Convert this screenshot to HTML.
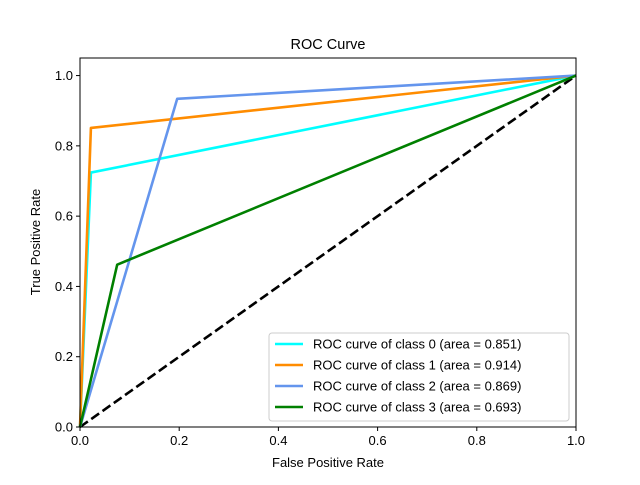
<!DOCTYPE html>
<html><head><meta charset="utf-8"><style>
body{margin:0;background:#fff}
svg{font-family:"Liberation Sans","DejaVu Sans",sans-serif}
</style></head><body>
<svg id="c" width="640" height="480" viewBox="0 0 640 480">
<rect width="640" height="480" fill="#fff"/>
<text x="328" y="49" font-size="14.5" text-anchor="middle">ROC Curve</text>
<g id="plot"></g>
<text x="328" y="467" font-size="13" text-anchor="middle">False Positive Rate</text>
<text transform="translate(40,242) rotate(-90)" font-size="13" text-anchor="middle">True Positive Rate</text>
</svg>
<script>
const seriesNames=["ROC curve of class 0 (area = 0.851)","ROC curve of class 1 (area = 0.914)","ROC curve of class 2 (area = 0.869)","ROC curve of class 3 (area = 0.693)"];
const seriesColors=["#00ffff","#ff8c00","#6495ed","#008000"];
const fprValues=[[0,0.022,1],[0,0.022,1],[0,0.196,1],[0,0.075,1]];
const tprValues=[[0,0.724,1],[0,0.851,1],[0,0.934,1],[0,0.462,1]];
const xTicks=[0,0.2,0.4,0.6,0.8,1.0];
const yTicks=[0,0.2,0.4,0.6,0.8,1.0];
const NS="http://www.w3.org/2000/svg";
const L=80,R=576,T=58,B=427;
const sx=v=>L+v*(R-L);
const sy=v=>B-v/1.05*(B-T);
const g=document.getElementById('plot');
function mk(t,a){const e=document.createElementNS(NS,t);for(const k in a)e.setAttribute(k,a[k]);return e;}
let d=mk('line',{x1:sx(0),y1:sy(0),x2:sx(1),y2:sy(1),stroke:'#000','stroke-width':2.6,'stroke-dasharray':'9.6,4.2'});


g.appendChild(d);
seriesNames.forEach((n,i)=>{
 const pts=fprValues[i].map((x,j)=>sx(x)+','+sy(tprValues[i][j])).join(' ');
 const p=mk('polyline',{points:pts,fill:'none',stroke:seriesColors[i],'stroke-width':2.6,'stroke-linejoin':'round'});
 
 
 g.appendChild(p);
});
const fr=mk('rect',{x:L,y:T,width:R-L,height:B-T,fill:'none',stroke:'#000','stroke-width':1});


g.appendChild(fr);
xTicks.forEach(v=>{
 g.appendChild(mk('line',{x1:sx(v),y1:B,x2:sx(v),y2:B+4,stroke:'#000'}));
 const t=mk('text',{x:sx(v),y:B+18,'font-size':13,'text-anchor':'middle'});t.textContent=v.toFixed(1);
 
 
 g.appendChild(t);
});
yTicks.forEach(v=>{
 g.appendChild(mk('line',{x1:L-4,y1:sy(v),x2:L,y2:sy(v),stroke:'#000'}));
 const t=mk('text',{x:L-7,y:sy(v)+4.5,'font-size':13,'text-anchor':'end'});t.textContent=v.toFixed(1);
 
 
 g.appendChild(t);
});
const lg=mk('rect',{x:269,y:333,width:300,height:88,rx:3,fill:'#fff','fill-opacity':0.8,stroke:'#ccc'});


g.appendChild(lg);
seriesNames.forEach((n,i)=>{
 const y=344+i*21;
 const l=mk('line',{x1:275,y1:y,x2:303,y2:y,stroke:seriesColors[i],'stroke-width':2.6});
 
 
 g.appendChild(l);
 const t=mk('text',{x:313,y:y+4.5,'font-size':13});t.textContent=n;
 
 
 g.appendChild(t);
});
</script>
</body></html>
